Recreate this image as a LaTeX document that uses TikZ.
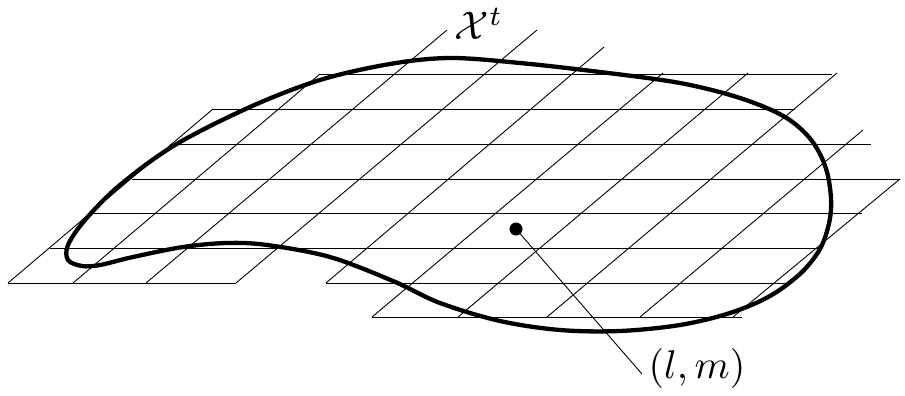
\documentclass[tikz,border=0pt]{standalone}
\tikzset{
  gridline/.style={line width=0.9pt, black},
  region/.style={line width=4.3pt, black},
  dotnode/.style={circle, fill=black, inner sep=0pt, minimum size=13pt},
  lbl/.style={inner sep=0pt},
  leader/.style={line width=0.9pt, black}
}
\begin{document}
\begin{tikzpicture}[x=1pt, y=-1pt]
\useasboundingbox (0,0) rectangle (905,396);
% horizontal grid lines
\draw[gridline] (320,74) -- (832,74);
\draw[gridline] (213,109) -- (795,109);
\draw[gridline] (170,144) -- (871,144);
\draw[gridline] (132,179) -- (900,179);
\draw[gridline] (91,213) -- (862,213);
\draw[gridline] (50,248) -- (818,248);
\draw[gridline] (8,283) -- (236,283);
\draw[gridline] (326,283) -- (787,283);
\draw[gridline] (372,317) -- (742,317);
% oblique grid lines
\draw[gridline] (8,283) -- (213,109);
\draw[gridline] (73,283) -- (320,74);
\draw[gridline] (146,283) -- (447,30);
\draw[gridline] (236,283) -- (537,30);
\draw[gridline] (326,283) -- (604,47);
\draw[gridline] (372,317) -- (663,73);
\draw[gridline] (458,317) -- (748,73);
\draw[gridline] (547,317) -- (837,73);
\draw[gridline] (640,317) -- (863,130);
\draw[gridline] (733,317) -- (900,179);
% region boundary
\draw[region] plot[smooth cycle, tension=0.55] coordinates {
 (450,58) (390,64) (320,80) (250,107) (175,145) (120,185) (85,220)
 (68,245) (68,260) (82,266) (100,265) (133,257) (183,247) (227,243)
 (267,245) (330,257) (393,281) (440,303) (500,321) (560,330) (620,331)
 (680,325) (730,313) (770,296) (802,272) (822,245) (831,210) (827,172)
 (812,141) (785,117) (740,98) (680,83) (600,72) (520,63)
};
% labels
\node[lbl, anchor=base] (X) at (479,40) {\scalebox{4}{$\mathcal{X}^t$}};
\node[dotnode] (pt) at (516,229) {};
\node[lbl, anchor=base] (lm) at (697,378) {\scalebox{4}{$(l,m)$}};
\coordinate (lead) at (642,374);
\draw[leader] (pt) -- (lead);
\end{tikzpicture}
\end{document}
